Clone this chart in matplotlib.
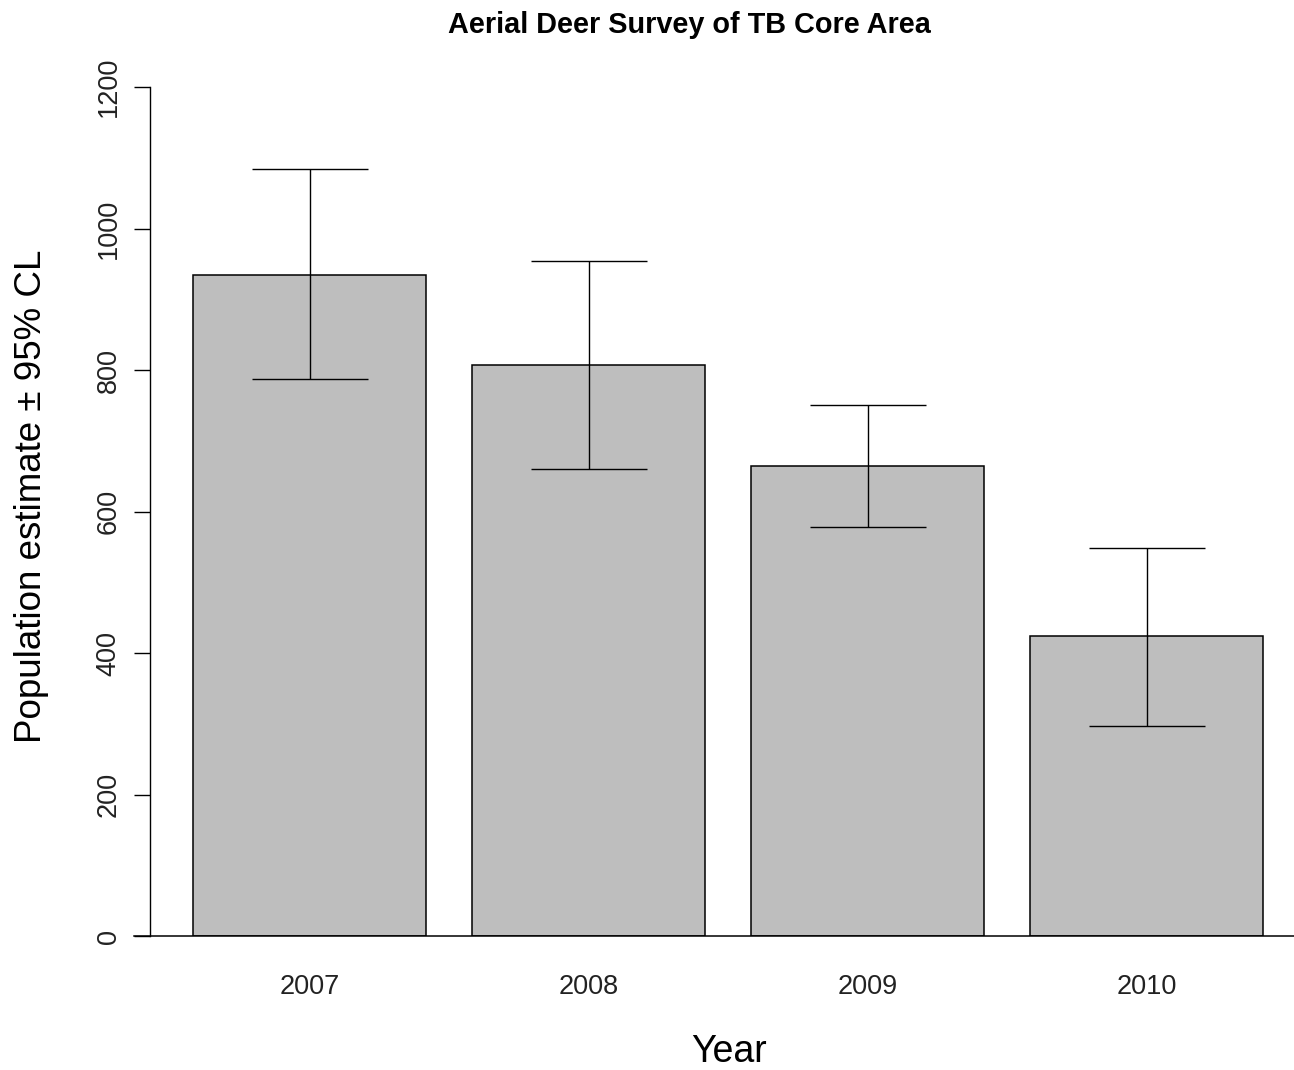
import matplotlib
matplotlib.use("Agg")
import matplotlib.pyplot as plt

plt.rcParams['font.family'] = ['Liberation Sans', 'DejaVu Sans']

years = ["2007", "2008", "2009", "2010"]
estimates = [935, 807, 664, 424]
upper_cl = [1085, 955, 751, 549]
lower_cl = [788, 660, 578, 297]
yticks = [0, 200, 400, 600, 800, 1000, 1200]

W, H = 1294, 1070
fig = plt.figure(figsize=(W / 100, H / 100), dpi=100)
ax = fig.add_axes([150 / W, (H - 936) / H, (W - 150) / W, (936 - 87.3) / H])

centers = [0.7 + 1.2 * i for i in range(len(years))]
ax.bar(centers, estimates, width=1.0, color="#BEBEBE", edgecolor="black", linewidth=1.1, zorder=2)
yerr = [[e - l for e, l in zip(estimates, lower_cl)], [u - e for e, u in zip(estimates, upper_cl)]]
ax.errorbar(centers, estimates, yerr=yerr, fmt="none", ecolor="black", elinewidth=1.0,
            capsize=42, capthick=1.0, zorder=3)

ax.set_xlim(0.01376, 4.934)
ax.set_ylim(0, 1200)

for s in ["top", "right", "bottom"]:
    ax.spines[s].set_visible(False)
ax.spines["left"].set_linewidth(1.0)
ax.spines["left"].set_bounds(0, 1200)

# baseline at zero
ax.plot([-16 / 1144, 1], [0, 0], transform=ax.get_yaxis_transform(), color="black",
        linewidth=1.1, clip_on=False, zorder=4)

ax.set_xticks(centers)
ax.set_xticklabels(years, fontsize=19.5, color="#222222")
ax.tick_params(axis="x", length=0, pad=27)

ax.set_yticks(yticks)
ax.set_yticklabels([str(v) for v in yticks], fontsize=19.5, rotation=90, va="center", color="#222222")
ax.tick_params(axis="y", length=11.5, width=1.0, pad=9)

fig.text(689.5 / W, (H - 33) / H, "Aerial Deer Survey of TB Core Area", ha="center", va="baseline",
         fontsize=20.8, fontweight="bold")
fig.text(728.5 / W, (H - 1062) / H, "Year", ha="center", va="baseline", fontsize=27)
fig.text(31.5 / W, (H - 496.5) / H, "Population estimate \u00b1 95% CL", ha="center", va="center",
         rotation=90, fontsize=26.5)

fig.savefig("out.png", dpi=100)
